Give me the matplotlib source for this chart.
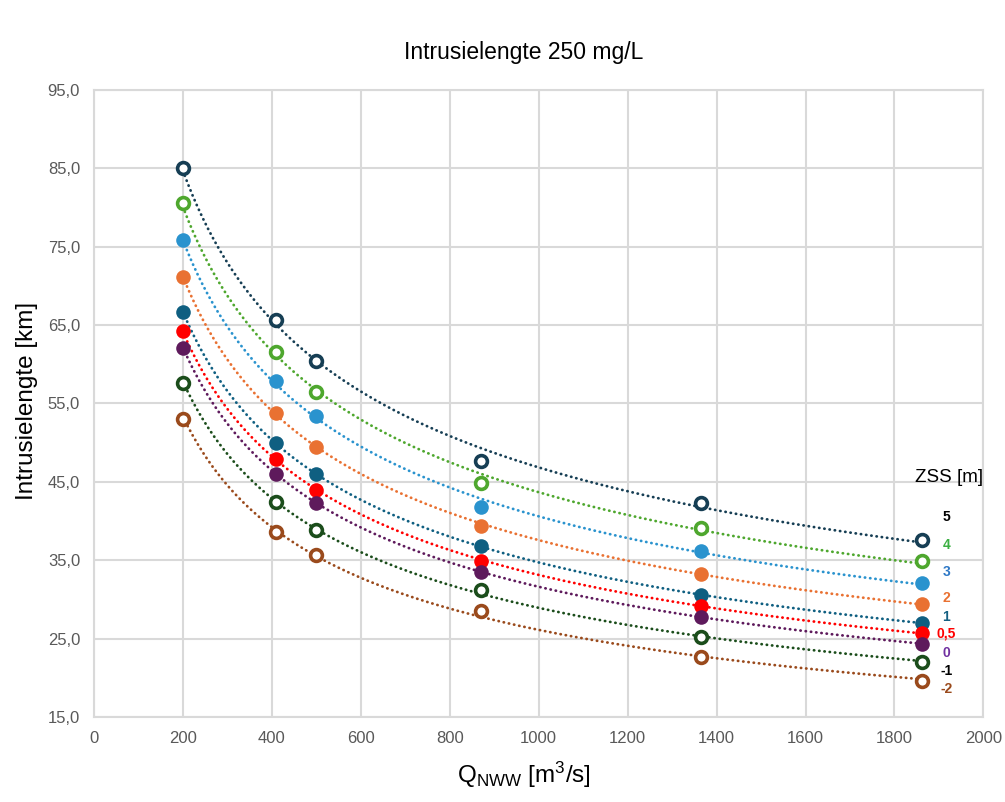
import numpy as np
import matplotlib
matplotlib.use("Agg")
import matplotlib.pyplot as plt

plt.rcParams["font.family"] = ["Liberation Sans", "DejaVu Sans"]
plt.rcParams["mathtext.default"] = "regular"

# afvoer NWW [m3/s]
q_nww = [200, 410, 500, 870, 1365, 1862]

# ZSS [m] -> intrusielengte [km]
zss_labels = ["5", "4", "3", "2", "1", "0,5", "0", "-1", "-2"]
intrusie = [
    [85.0, 65.7, 60.4, 47.6, 42.3, 37.6],
    [80.5, 61.6, 56.4, 44.9, 39.1, 34.9],
    [75.8, 57.8, 53.4, 41.8, 36.2, 32.1],
    [71.1, 53.8, 49.5, 39.3, 33.3, 29.4],
    [66.6, 49.9, 46.0, 36.8, 30.5, 27.0],
    [64.2, 47.9, 43.9, 34.9, 29.2, 25.7],
    [62.1, 46.0, 42.3, 33.5, 27.8, 24.3],
    [57.6, 42.4, 38.9, 31.2, 25.2, 22.0],
    [53.0, 38.6, 35.6, 28.5, 22.6, 19.6],
]
label_y = [40.5, 37.0, 33.5, 30.2, 27.8, 25.6, 23.2, 20.9, 18.6]

line_colors = ["#163E54", "#4EA72E", "#2A93CE", "#E97132", "#0F5F81",
               "#FF0000", "#5E1A5C", "#1B4D1B", "#9A4A1C"]
text_colors = ["#000000", "#3CB043", "#2E78C6", "#E97132", "#156082",
               "#FF0000", "#7030A0", "#000000", "#9A4A1C"]
open_marker = [True, True, False, False, False, False, False, True, True]

fig = plt.figure(figsize=(10.05, 8.02), dpi=100)
ax = fig.add_axes([0.0935, 0.106, 0.885, 0.782])

x = np.array(q_nww, dtype=float)
xs = np.linspace(x.min(), x.max(), 300)

for i, vals in enumerate(intrusie):
    y = np.array(vals)
    c = line_colors[i]
    # machtstrendlijn (y = a * x^b)
    b, ln_a = np.polyfit(np.log(x), np.log(y), 1)
    ax.plot(xs, np.exp(ln_a) * xs ** b, color=c, lw=2.0,
            linestyle=(0, (0.1, 1.8)), dash_capstyle="round", zorder=2)
    if open_marker[i]:
        ax.plot(x, y, "o", ms=8.5, mfc="white", mec=c, mew=2.6,
                linestyle="none", zorder=4)
    else:
        ax.plot(x, y, "o", ms=10.5, mfc=c, mec=c, mew=0,
                linestyle="none", zorder=4)
    ax.text(1917, label_y[i], zss_labels[i], color=text_colors[i],
            fontsize=10, fontweight="bold", ha="center", va="center",
            zorder=5)

ax.text(1923, 45.6, "ZSS [m]", fontsize=13.5, ha="center", va="center",
        color="#000000")

ax.set_xlim(0, 2000)
ax.set_ylim(15, 95)
ax.set_xticks(np.arange(0, 2001, 200))
ax.set_yticks(np.arange(15, 96, 10))
ax.set_yticklabels([f"{v:.1f}".replace(".", ",") for v in np.arange(15, 96, 10)])
ax.tick_params(length=0, labelsize=12, colors="#595959", pad=10)
ax.grid(True, color="#D9D9D9", lw=1.5)
ax.set_axisbelow(True)
for s in ax.spines.values():
    s.set_color("#D9D9D9")
    s.set_linewidth(1.5)

fig.text(0.521, 0.935, "Intrusielengte 250 mg/L", fontsize=16.5,
         ha="center", va="center", color="#000000")
fig.text(0.027, 0.5, "Intrusielengte [km]", fontsize=17.5, rotation=90,
         ha="center", va="center")
fig.text(0.521, 0.034, "Q$_{NWW}$ [m$^3$/s]", fontsize=17.5,
         ha="center", va="center")

fig.savefig("out.png", dpi=100)
